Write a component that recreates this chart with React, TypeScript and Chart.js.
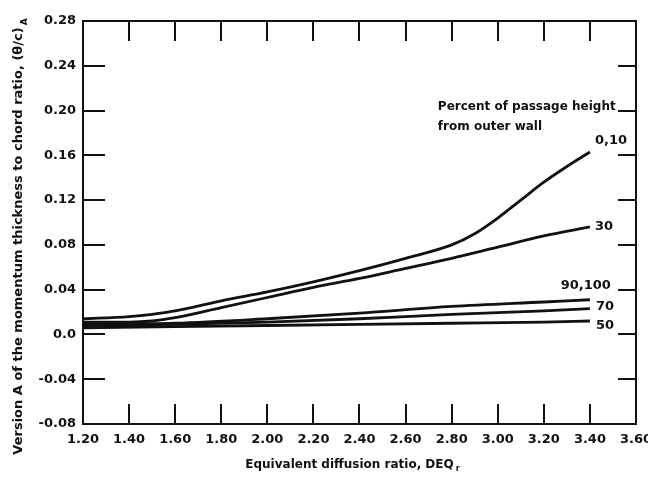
import React, { useEffect, useRef } from "react";
import { Chart, registerables } from "chart.js";

Chart.register(...registerables);

// ---- data ----
const xTickValues = [1.2, 1.4, 1.6, 1.8, 2.0, 2.2, 2.4, 2.6, 2.8, 3.0, 3.2, 3.4, 3.6];
const xTickLabels = ["1.20", "1.40", "1.60", "1.80", "2.00", "2.20", "2.40", "2.60", "2.80", "3.00", "3.20", "3.40", "3.60"];
const yTickValues = [0.28, 0.24, 0.2, 0.16, 0.12, 0.08, 0.04, 0.0, -0.04, -0.08];
const yTickLabels = ["0.28", "0.24", "0.20", "0.16", "0.12", "0.08", "0.04", "0.0", "-0.04", "-0.08"];

const x010 = [1.2, 1.4, 1.5, 1.6, 1.8, 2.0, 2.2, 2.4, 2.6, 2.8, 2.9, 3.0, 3.1, 3.2, 3.3, 3.4];
const y010 = [0.014, 0.016, 0.018, 0.021, 0.030, 0.038, 0.047, 0.057, 0.068, 0.080, 0.090, 0.104, 0.120, 0.136, 0.150, 0.163];

const x30 = [1.2, 1.4, 1.5, 1.6, 1.8, 2.0, 2.2, 2.4, 2.6, 2.8, 3.0, 3.2, 3.4];
const y30 = [0.011, 0.011, 0.012, 0.015, 0.024, 0.033, 0.042, 0.050, 0.059, 0.068, 0.078, 0.088, 0.096];

const xLow = [1.2, 1.6, 2.0, 2.4, 2.8, 3.2, 3.4];
const y90100 = [0.009, 0.010, 0.014, 0.019, 0.025, 0.029, 0.031];
const y70 = [0.008, 0.009, 0.011, 0.014, 0.018, 0.021, 0.023];
const y50 = [0.006, 0.007, 0.008, 0.009, 0.010, 0.011, 0.012];

const seriesNames = ["0,10", "30", "90,100", "70", "50"];
const noteLines = ["Percent of passage height", "from outer wall"];
const noteX = 2.74;
const noteY = [0.203, 0.185];

const yTitle = "Version A of the momentum thickness to chord ratio, (\u03b8/c)";
const yTitleSub = "A";
const xTitle = "Equivalent diffusion ratio, DEQ";
const xTitleSub = "r";

const FONT = "'DejaVu Sans', sans-serif";

function pts(xs: number[], ys: number[]) {
  return xs.map((x, i) => ({ x, y: ys[i] }));
}

export default function App() {
  const ref = useRef<HTMLCanvasElement | null>(null);

  useEffect(() => {
    document.body.style.margin = "0";
    const canvas = ref.current!;
    const labelDx = [5, 5, 21, 6, 6];
    const labelDy = [-11, 0, -14, -2, 5];
    const labelAlign: CanvasTextAlign[] = ["left", "left", "right", "left", "left"];

    const deco = {
      id: "deco",
      afterDraw(chart: any) {
        const ctx = chart.ctx as CanvasRenderingContext2D;
        const { left, right, top, bottom } = chart.chartArea;
        const xs = chart.scales.x;
        const ys = chart.scales.y;
        ctx.save();
        ctx.strokeStyle = "#111";
        ctx.fillStyle = "#111";
        ctx.lineWidth = 2;
        ctx.strokeRect(left, top, right - left, bottom - top);
        // inside ticks
        const tl = 20;
        ctx.beginPath();
        xTickValues.forEach((v) => {
          if (v <= 1.2 || v >= 3.6) return;
          const px = Math.round(xs.getPixelForValue(v));
          ctx.moveTo(px, top);
          ctx.lineTo(px, top + tl);
          ctx.moveTo(px, bottom);
          ctx.lineTo(px, bottom - tl);
        });
        yTickValues.forEach((v) => {
          if (v >= 0.28 || v <= -0.08) return;
          const py = Math.round(ys.getPixelForValue(v));
          ctx.moveTo(left, py);
          ctx.lineTo(left + 22, py);
          ctx.moveTo(right, py);
          ctx.lineTo(right - 18, py);
        });
        ctx.stroke();

        // series labels
        ctx.font = `bold 13px ${FONT}`;
        ctx.textBaseline = "middle";
        chart.data.datasets.forEach((ds: any, i: number) => {
          const last = ds.data[ds.data.length - 1];
          const px = xs.getPixelForValue(last.x);
          const py = ys.getPixelForValue(last.y);
          ctx.textAlign = labelAlign[i];
          ctx.fillText(seriesNames[i], px + labelDx[i], py + labelDy[i]);
        });

        // note
        ctx.font = `bold 12px ${FONT}`;
        ctx.textAlign = "left";
        noteLines.forEach((t, i) => {
          ctx.fillText(t, xs.getPixelForValue(noteX), ys.getPixelForValue(noteY[i]));
        });

        // x title
        ctx.font = `bold 12px ${FONT}`;
        const xw = ctx.measureText(xTitle).width;
        const xc = (left + right) / 2 - 10;
        ctx.textAlign = "left";
        ctx.fillText(xTitle, xc - xw / 2, 465);
        ctx.font = `bold 8px ${FONT}`;
        ctx.fillText(xTitleSub, xc + xw / 2 + 2, 469);

        // y title
        ctx.translate(19, 237);
        ctx.rotate(-Math.PI / 2);
        ctx.font = `bold 13px ${FONT}`;
        const yw = ctx.measureText(yTitle).width;
        ctx.fillText(yTitle, -yw / 2 - 4, 0);
        ctx.font = `bold 9px ${FONT}`;
        ctx.fillText(yTitleSub, yw / 2 - 2, 6);
        ctx.restore();
      },
    };

    const lineStyle = {
      borderColor: "#111",
      borderWidth: 2.8,
      pointRadius: 0,
      fill: false,
      tension: 0.4,
      cubicInterpolationMode: "monotone" as const,
    };

    const chart = new Chart(canvas, {
      type: "line",
      data: {
        datasets: [
          { label: seriesNames[0], data: pts(x010, y010), ...lineStyle },
          { label: seriesNames[1], data: pts(x30, y30), ...lineStyle },
          { label: seriesNames[2], data: pts(xLow, y90100), ...lineStyle },
          { label: seriesNames[3], data: pts(xLow, y70), ...lineStyle },
          { label: seriesNames[4], data: pts(xLow, y50), ...lineStyle },
        ],
      },
      options: {
        responsive: false,
        animation: false,
        devicePixelRatio: 1,
        layout: { padding: { top: 21, right: 12, left: 0, bottom: 0 } },
        plugins: { legend: { display: false }, tooltip: { enabled: false } },
        scales: {
          x: {
            type: "linear",
            min: 1.2,
            max: 3.6,
            afterBuildTicks: (s: any) => {
              s.ticks = xTickValues.map((v) => ({ value: v }));
            },
            afterFit: (s: any) => {
              s.height = 57;
              s.paddingRight = 0;
              s.paddingLeft = 0;
            },
            ticks: {
              color: "#111",
              font: { family: FONT, size: 13, weight: "bold" },
              padding: 8,
              maxRotation: 0,
              autoSkip: false,
              callback: (v: any) => {
                const i = xTickValues.findIndex((t) => Math.abs(t - Number(v)) < 1e-6);
                return i >= 0 ? xTickLabels[i] : "";
              },
            },
            grid: { display: false, drawTicks: false },
            border: { display: false },
          },
          y: {
            type: "linear",
            min: -0.08,
            max: 0.28,
            afterBuildTicks: (s: any) => {
              s.ticks = yTickValues.map((v) => ({ value: v }));
            },
            afterFit: (s: any) => {
              s.width = 83;
              s.paddingTop = 0;
              s.paddingBottom = 0;
            },
            ticks: {
              color: "#111",
              font: { family: FONT, size: 13, weight: "bold" },
              padding: 7,
              autoSkip: false,
              callback: (v: any) => {
                const i = yTickValues.findIndex((t) => Math.abs(t - Number(v)) < 1e-6);
                return i >= 0 ? yTickLabels[i] : "";
              },
            },
            grid: { display: false, drawTicks: false },
            border: { display: false },
          },
        },
      },
      plugins: [deco],
    });
    return () => chart.destroy();
  }, []);

  return (
    <div style={{ position: "absolute", left: 0, top: 0, width: 648, height: 481, background: "#fff" }}>
      <canvas ref={ref} width={648} height={481} />
    </div>
  );
}
